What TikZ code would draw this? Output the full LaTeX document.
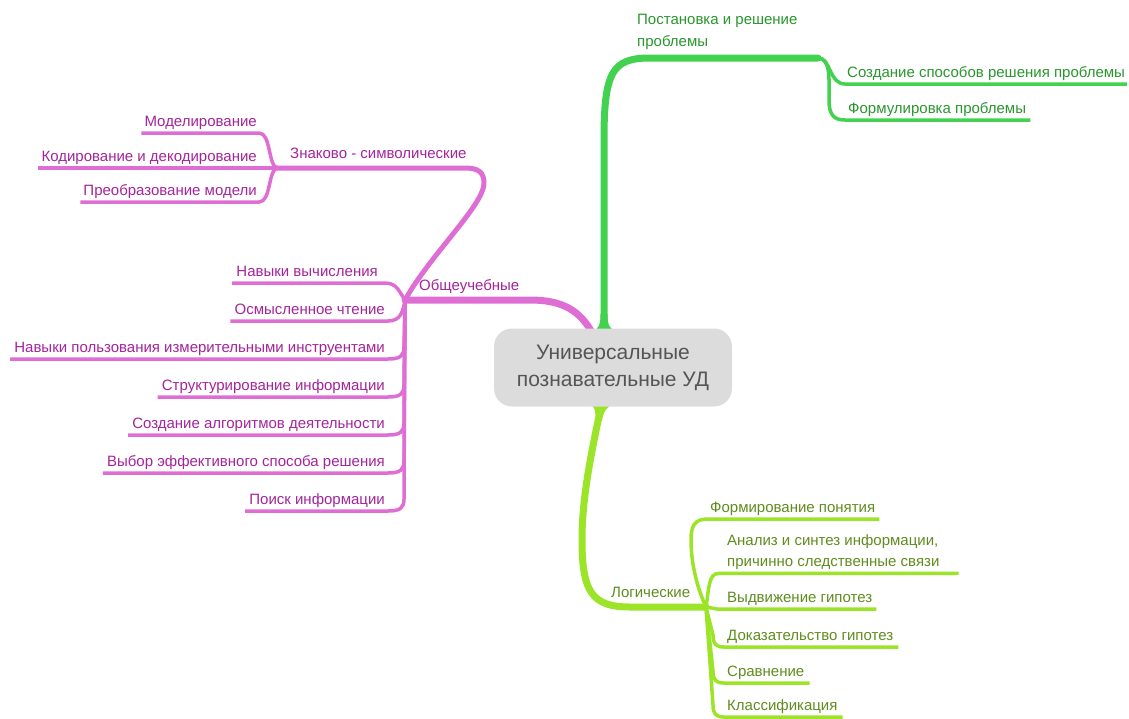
\documentclass[tikz,border=0pt]{standalone}
\usepackage{fontspec}
\setmainfont{Liberation Sans}
\usetikzlibrary{backgrounds}
\definecolor{gline}{RGB}{66,210,80}
\definecolor{gtext}{RGB}{40,150,45}
\definecolor{mline}{RGB}{222,110,212}
\definecolor{mtext}{RGB}{165,35,155}
\definecolor{lline}{RGB}{155,228,40}
\definecolor{ltext}{RGB}{95,140,30}
\definecolor{boxfill}{RGB}{220,220,220}
\definecolor{boxtext}{RGB}{85,85,85}
\begin{document}
\begin{tikzpicture}[x=1pt,y=-1pt,
  txt/.style={inner sep=0pt, font=\fontsize{15}{21}\selectfont},
  gt/.style={txt,text=gtext},
  mt/.style={txt,text=mtext},
  lt/.style={txt,text=ltext},
  trunk/.style={line width=7pt, line cap=round, line join=round},
  sub/.style={line width=5pt, line cap=round, line join=round},
  leaf/.style={line width=3.5pt, line cap=butt, line join=round},
  rootbox/.style={fill=boxfill, rounded corners=18pt, minimum width=238pt, minimum height=78pt,
    text=boxtext, font=\fontsize{21}{27}\selectfont, align=center, inner sep=0pt}
]
\useasboundingbox (0,0) rectangle (1129,718);

% root
\node[rootbox] (root) at (613,367.5) {Универсальные\\познавательные УД};

% green branch
\node[gt, anchor=north west, align=left, font=\fontsize{15}{22}\selectfont] (pr) at (637,14.3) {Постановка и решение\\проблемы};
\node[gt, anchor=base west] (c1) at (847,77) {Создание способов решения проблемы};
\node[gt, anchor=base west] (c2) at (848,113) {Формулировка проблемы};
\coordinate (jg) at (818,58);

% magenta branch
\node[mt, anchor=base west] (ob) at (419,290) {Общеучебные};
\coordinate (jo) at (405,300);
\node[mt, anchor=base west] (zn) at (290,158) {Знаково - символические};
\coordinate (jz) at (277,168);
\node[mt, anchor=base east] (m1) at (257,126) {Моделирование};
\node[mt, anchor=base east] (m2) at (257,161) {Кодирование и декодирование};
\node[mt, anchor=base east] (m3) at (257,195) {Преобразование модели};
\node[mt, anchor=base east] (o1) at (378,276) {Навыки вычисления};
\node[mt, anchor=base east] (o2) at (385,314) {Осмысленное чтение};
\node[mt, anchor=base east] (o3) at (385,352) {Навыки пользования измерительными инструентами};
\node[mt, anchor=base east] (o4) at (385,390) {Структурирование информации};
\node[mt, anchor=base east] (o5) at (385,428) {Создание алгоритмов деятельности};
\node[mt, anchor=base east] (o6) at (385,466) {Выбор эффективного способа решения};
\node[mt, anchor=base east] (o7) at (385,504) {Поиск информации};

% lime branch
\node[lt, anchor=base west] (lg) at (611,597) {Логические};
\coordinate (jl) at (706,607);
\node[lt, anchor=base west] (l1) at (710,512) {Формирование понятия};
\node[lt, anchor=north west, align=left] (l2) at (727,534) {Анализ и синтез информации,\\причинно следственные связи};
\node[lt, anchor=base west] (l3) at (727,602) {Выдвижение гипотез};
\node[lt, anchor=base west] (l4) at (727,640) {Доказательство гипотез};
\node[lt, anchor=base west] (l5) at (727,676) {Сравнение};
\node[lt, anchor=base west] (l6) at (727,710) {Классификация};

\begin{pgfonlayer}{background}
% green
\draw[gline,trunk] ([xshift=-9pt,yshift=-6pt]root.north) -- (604,140)
   .. controls (604,72) and (612,58) .. (650,58) -- (jg);
\fill[gline] (593,331) .. controls (599,329) and (600.5,324) .. (600.5,314) -- (607.5,314)
   .. controls (607.5,324) and (609,329) .. (616,331) -- cycle;
\draw[gline,leaf] (jg) .. controls (831,58) and (829,84) .. ([xshift=-2pt,yshift=-7pt]c1.base west)
   -- ([xshift=2pt,yshift=-7pt]c1.base east);
\draw[gline,leaf] (jg) .. controls (831,58) and (829,80) .. (829,100)
   .. controls (829,115) and (834,120) .. ([xshift=-3pt,yshift=-7pt]c2.base west)
   -- ([xshift=4pt,yshift=-7pt]c2.base east);

% magenta
\draw[mline,trunk] ([xshift=-20pt,yshift=-6pt]root.north) .. controls (580,310) and (562,300) .. (530,300) -- (jo);
\draw[mline,sub] (jo) .. controls (430,255) and (484,205) .. (484,183)
   .. controls (484,172) and (478,168) .. (465,168) -- (jz);
\draw[mline,leaf] (jz) .. controls (268,165) and (271,133) .. ([xshift=2pt,yshift=-7pt]m1.base east)
   -- ([xshift=-3pt,yshift=-7pt]m1.base west);
\draw[mline,leaf] (jz) -- ([xshift=-3pt,yshift=-7pt]m2.base west);
\draw[mline,leaf] (jz) .. controls (268,171) and (271,202) .. ([xshift=2pt,yshift=-7pt]m3.base east)
   -- ([xshift=-3pt,yshift=-7pt]m3.base west);
\draw[mline,leaf] (jo) .. controls (398,290) and (397,283) .. ([xshift=6pt,yshift=-7pt]o1.base east)
   -- ([xshift=-4pt,yshift=-7pt]o1.base west);
\draw[mline,leaf] (jo) .. controls (403,311) and (401,321) .. ([xshift=3pt,yshift=-7pt]o2.base east)
   -- ([xshift=-4pt,yshift=-7pt]o2.base west);
\foreach \n/\u in {o3/359,o4/397,o5/435,o6/473,o7/511}{
  \draw[mline,leaf] (jo) -- (404,\u-12) .. controls (404,\u-3) and (400,\u) .. ([xshift=3pt,yshift=-7pt]\n.base east)
   -- ([xshift=-4pt,yshift=-7pt]\n.base west);
}

% lime
\draw[lline,trunk] ([xshift=-11pt,yshift=5pt]root.south) .. controls (592,450) and (582,495) .. (582,540)
   .. controls (582,592) and (592,607) .. (630,607) -- (jl);
\fill[lline] (588,403) .. controls (594,405) and (596,410) .. (595.5,420) -- (602,421)
   .. controls (603,411) and (608,405) .. (617,403) -- cycle;
\draw[lline,leaf] (jl) .. controls (698,590) and (691,565) .. (691,540)
   .. controls (691,525) and (695,519) .. ([xshift=-2pt,yshift=-7pt]l1.base west)
   -- ([xshift=4pt,yshift=-7pt]l1.base east);
\draw[lline,leaf] (jl) .. controls (709,590) and (708,573) .. ([xshift=-8pt,yshift=-4pt]l2.south west)
   -- ([xshift=19pt,yshift=-4pt]l2.south east);
\draw[lline,leaf] (jl) -- ([xshift=-10pt,yshift=-7pt]l3.base west) -- ([xshift=4pt,yshift=-7pt]l3.base east);
\foreach \n/\u in {l4/647,l5/683,l6/717}{
  \draw[lline,leaf] (jl) -- (713,\u-12) .. controls (713,\u-3) and (716,\u) .. ([xshift=-3pt,yshift=-7pt]\n.base west)
   -- ([xshift=5pt,yshift=-7pt]\n.base east);
}
\end{pgfonlayer}
\end{tikzpicture}
\end{document}
